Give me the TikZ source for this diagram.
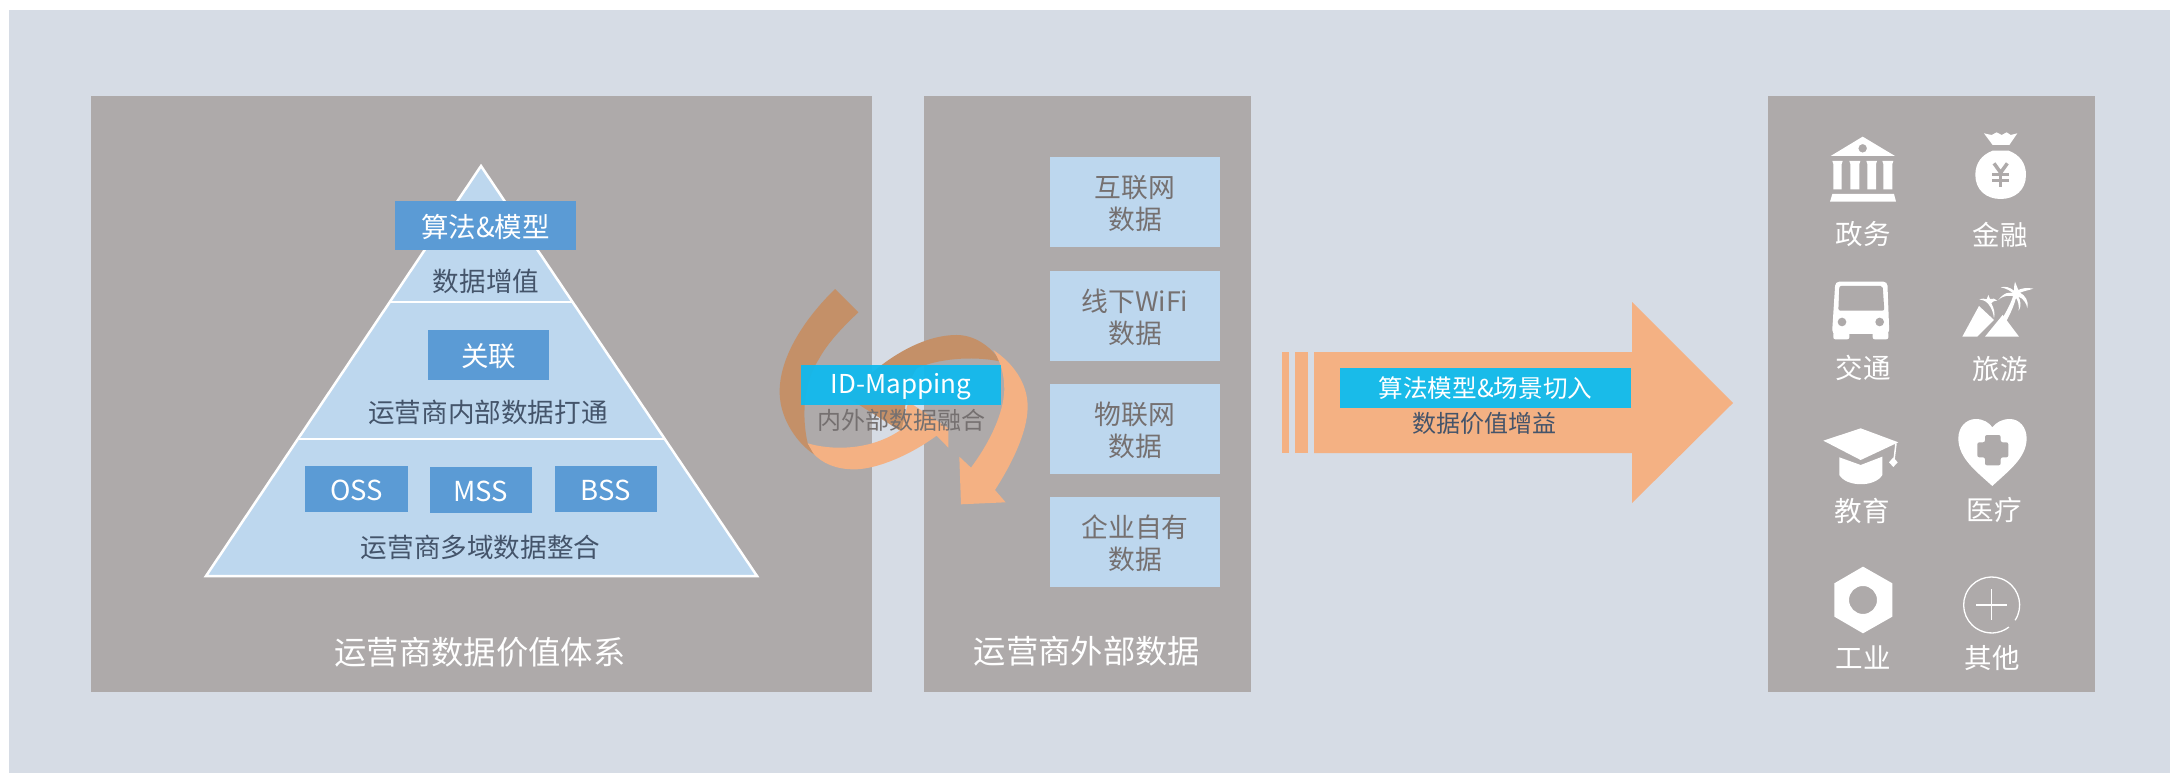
\documentclass[tikz,border=0pt]{standalone}
\usepackage{fontspec}
\setmainfont{Noto Sans CJK SC}
\definecolor{bgblue}{HTML}{D6DCE5}
\definecolor{panelgray}{HTML}{AEAAAA}
\definecolor{lightblue}{HTML}{BDD7EE}
\definecolor{midblue}{HTML}{5B9BD5}
\definecolor{swirlorange}{HTML}{F4B183}
\definecolor{swirlbrown}{HTML}{C49068}
\definecolor{idcyan}{HTML}{0FB9EE}
\definecolor{barcyan}{HTML}{19BBE9}
\definecolor{darktext}{HTML}{44546A}
\definecolor{graytext}{HTML}{757070}
\tikzstyle{box}=[rectangle,minimum size=0pt,inner sep=0pt,anchor=center,align=center]
\tikzstyle{panel}=[box,fill=panelgray]
\tikzstyle{midbox}=[box,fill=midblue,text=white,text height=26pt,text depth=3pt,font=\fontsize{27.5}{32}\selectfont]
\tikzstyle{srcbox}=[box,fill=lightblue,minimum width=170pt,minimum height=90pt]
\tikzstyle{annot}=[align=center,inner sep=0pt]
\tikzstyle{srctext}=[annot,text=graytext,font=\fontsize{26.8}{32}\selectfont]
\tikzstyle{pyrtext}=[annot,text=darktext,font=\fontsize{26.6}{32}\selectfont]
\tikzstyle{title}=[annot,text=white,font=\fontsize{32.3}{38}\selectfont]
\tikzstyle{iconlabel}=[annot,text=white,font=\fontsize{27.5}{32}\selectfont]
\tikzstyle{icon}=[x=0.3333pt,y=-0.3333pt]
\newcommand{\srcitem}[3]
{
  \node[srcbox](#1box) at (1135,#2){};
  \node[srctext](#1text) at (1135,#2+1.5){#3};
}
\begin{document}
\begin{tikzpicture}[x=1pt,y=-1pt]
	\useasboundingbox (0,0) rectangle (2170,773);
	\fill[bgblue] (9,10) rectangle (2170,773);

	\node[panel, minimum width=781pt, minimum height=596pt](leftpanel) at (481.5,394){};
	\node[panel, minimum width=327pt, minimum height=596pt](midpanel) at (1087.5,394){};
	\node[panel, minimum width=327pt, minimum height=596pt](rightpanel) at (1931.5,394){};

	% pyramid
	\coordinate (apex) at (481,166);
	\coordinate (baseL) at (206,576);
	\coordinate (baseR) at (757,576);
	\coordinate (divA) at (390,302);
	\coordinate (divB) at (573,302);
	\coordinate (divC) at (297,439);
	\coordinate (divD) at (665,439);
	\draw[white, line width=2.5pt, fill=lightblue, line join=miter] (apex) -- (baseR) -- (baseL) -- cycle;
	\draw[white, line width=2.5pt] (divA) -- (divB);
	\draw[white, line width=2.5pt] (divC) -- (divD);

	\node[midbox, minimum width=181pt, minimum height=49pt](algobox) at (485.5,225.5){算法\&模型};
	\node[midbox, minimum width=121pt, minimum height=50pt](linkbox) at (488.5,355){关联};
	\node[midbox, minimum width=103pt, minimum height=46pt](oss) at (356.5,489){OSS};
	\node[midbox, minimum width=102pt, minimum height=46pt](mss) at (481,490){MSS};
	\node[midbox, minimum width=102pt, minimum height=46pt](bss) at (606,489){BSS};
	\node[pyrtext](valuelabel) at (486,281){数据增值};
	\node[pyrtext](innerlabel) at (488,412){运营商内部数据打通};
	\node[pyrtext](multilabel) at (480.5,547){运营商多域数据整合};
	\node[title](lefttitle) at (480,652){运营商数据价值体系};
	\node[title](midtitle) at (1087,651){运营商外部数据};

	% outside data
	\srcitem{net}{202}{互联网\\数据}
	\srcitem{wifi}{316}{线下WiFi\\数据}
	\srcitem{iot}{429}{物联网\\数据}
	\srcitem{own}{542}{企业自有\\数据}

	% swirl
	\begin{scope}[shift={(760,270)},icon]
		\fill[swirlbrown] (225,57) .. controls (110,170) and (50,290) .. (60,385) .. controls (66,450) and (110,520) .. (165,555) -- (143,520) .. controls (125,440) and (130,340) .. (175,270) .. controls (205,215) and (250,170) .. (295,127) -- cycle;
		\fill[swirlbrown] (262,382) .. controls (340,290) and (470,195) .. (590,195) .. controls (640,195) and (690,225) .. (722,275) .. controls (660,260) and (550,260) .. (470,295) .. controls (440,340) and (435,400) .. (430,482) -- (420,482) -- cycle;
		\fill[swirlorange] (143,520) .. controls (210,540) and (330,545) .. (425,478) -- (445,395) -- (565,475) -- (565,533) -- (530,497) .. controls (430,570) and (330,600) .. (280,598) .. controls (230,598) and (185,580) .. (160,550) -- cycle;
		\fill[swirlorange] (700,240) .. controls (760,280) and (803,340) .. (803,410) .. controls (803,490) and (750,590) .. (705,660) -- (737,697) -- (603,703) -- (598,560) -- (633,593) .. controls (680,530) and (730,440) .. (733,360) .. controls (733,320) and (725,280) .. (700,240) -- cycle;
	\end{scope}
	\node[box, fill=idcyan, fill opacity=0.94, minimum width=200pt, minimum height=40pt](idbox) at (901,385){};
	\node[annot, text=white, font=\fontsize{26}{32}\selectfont](idtext) at (901,387){ID-Mapping};
	\node[annot, text=graytext, font=\fontsize{24}{28}\selectfont](mergelabel) at (901,420){内外部数据融合};

	% big arrow
	\fill[swirlorange] (1282,352) rectangle (1289,453);
	\fill[swirlorange] (1295,352) rectangle (1308,453);
	\fill[swirlorange] (1314,352) -- (1632,352) -- (1632,302) -- (1733,403) -- (1632,503) -- (1632,453) -- (1314,453) -- cycle;
	\node[box, fill=barcyan, text=white, minimum width=291pt, minimum height=40pt, font=\fontsize{24.6}{30}\selectfont](scenebox) at (1485.5,388){算法模型\&场景切入};
	\node[annot, text=darktext, font=\fontsize{24}{30}\selectfont](gainlabel) at (1484,423){数据价值增益};

	% icons, upper half
	\begin{scope}[shift={(1770,100)},icon]
		% bank
		\fill[white,even odd rule] (278,110) -- (375,168) -- (182,168) -- cycle (278,145) circle (13);
		\foreach \xa/\xb in {190/215,241/268,292/318,340/367}
			\fill[white] (\xa-3,183) -- (\xb+3,183) -- (\xb,192) -- (\xb,268) -- (\xa,268) -- (\xa,192) -- cycle;
		\fill[white] (187,282) -- (372,282) -- (378,305) -- (180,305) -- cycle;
		% money bag
		\fill[white] (642,100) -- (665,105) -- (680,97) -- (695,105) -- (710,97) -- (722,105) -- (742,100) -- (718,135) -- (668,135) -- cycle;
		\fill[white] (668,152) -- (716,152) .. controls (750,165) and (768,190) .. (768,225) .. controls (768,270) and (735,297) .. (692,297) .. controls (649,297) and (616,270) .. (616,225) .. controls (616,190) and (634,165) .. (668,152) -- cycle;
		\draw[panelgray, line width=3.5pt] (672,190) -- (692,218) -- (712,190);
		\draw[panelgray, line width=3.5pt] (692,218) -- (692,262);
		\draw[panelgray, line width=3pt] (667,224) -- (717,224);
		\draw[panelgray, line width=3pt] (667,242) -- (717,242);
		% bus
		\fill[white,rounded corners=4pt] (196,545) -- (352,545) -- (358,702) -- (186,702) -- cycle;
		\fill[white,rounded corners=2pt] (190,695) rectangle (238,718);
		\fill[white,rounded corners=2pt] (308,695) rectangle (355,718);
		\fill[panelgray,rounded corners=2pt] (208,558) -- (338,558) -- (343,632) -- (205,632) -- cycle;
		\fill[panelgray] (216,666) circle (13);
		\fill[panelgray] (329,666) circle (13);
		% mountains and palms
		\fill[white] (577,710) -- (627,618) -- (672,660) -- (622,710) -- cycle;
		\fill[white] (645,710) -- (698,645) -- (747,710) -- cycle;
		\fill[white] (697,655) .. controls (712,630) and (725,605) .. (730,585) -- (740,585) .. controls (735,610) and (722,640) .. (708,665) -- cycle;
		\fill[white] (735,585) .. controls (720,570) and (700,580) .. (685,600) .. controls (702,585) and (718,585) .. (735,590) .. controls (745,600) and (748,620) .. (746,632) .. controls (755,620) and (752,600) .. (745,590) .. controls (760,595) and (770,610) .. (772,625) .. controls (778,605) and (765,585) .. (750,578) .. controls (765,572) and (780,570) .. (790,566) .. controls (770,562) and (755,565) .. (745,570) -- (735,545) .. controls (732,555) and (732,565) .. (732,572) .. controls (720,562) and (705,558) .. (692,562) .. controls (708,565) and (722,572) .. (735,585) -- cycle;
		\fill[white] (655,612) .. controls (645,600) and (635,600) .. (628,598) .. controls (638,595) and (645,596) .. (650,598) -- (655,585) -- (660,597) .. controls (668,594) and (676,596) .. (682,602) .. controls (672,602) and (666,606) .. (664,610) .. controls (672,625) and (676,640) .. (672,655) .. controls (670,640) and (666,625) .. (655,612) -- cycle;
	\end{scope}

	% icons, lower half
	\begin{scope}[shift={(1770,400)},icon]
		% cap
		\fill[white] (160,122) -- (272,85) -- (385,127) -- (272,180) -- cycle;
		\fill[white] (208,172) -- (272,195) -- (337,170) -- (337,225) .. controls (315,262) and (230,262) .. (208,225) -- cycle;
		\draw[white, line width=1.5pt] (378,130) -- (372,180);
		\fill[white] (370,172) -- (383,187) -- (370,201) -- (357,187) -- cycle;
		% heart
		\fill[white] (667,258) .. controls (620,215) and (565,175) .. (565,115) .. controls (565,80) and (590,57) .. (617,57) .. controls (640,57) and (658,68) .. (667,82) .. controls (678,68) and (695,57) .. (720,57) .. controls (748,57) and (770,82) .. (770,115) .. controls (770,175) and (712,215) .. (667,258) -- cycle;
		\fill[panelgray,rounded corners=2pt] (645,105) -- (692,105) -- (692,127) -- (715,127) -- (715,172) -- (692,172) -- (692,196) -- (645,196) -- (645,172) -- (622,172) -- (622,127) -- (645,127) -- cycle;
		% nut
		\fill[white,even odd rule] (279,500) -- (367,550) -- (367,650) -- (279,700) -- (193,650) -- (193,550) -- cycle (279,600) circle (42);
		% plus in a ring
		\draw[white, line width=1.3pt] (665,615) ++(33:84) arc[start angle=33, end angle=-308, radius=84];
		\draw[white, line width=1.3pt] (618,615) -- (712,615);
		\draw[white, line width=1.3pt] (665,568) -- (665,660);
	\end{scope}

	\node[iconlabel](govlabel) at (1863,234){政务};
	\node[iconlabel](finlabel) at (2000,235){金融};
	\node[iconlabel](traffic) at (1863,368){交通};
	\node[iconlabel](tour) at (2000,369){旅游};
	\node[iconlabel](edu) at (1862,511){教育};
	\node[iconlabel](medical) at (1994,510){医疗};
	\node[iconlabel](industry) at (1863,657){工业};
	\node[iconlabel](other) at (1992,658){其他};
\end{tikzpicture}
\end{document}
